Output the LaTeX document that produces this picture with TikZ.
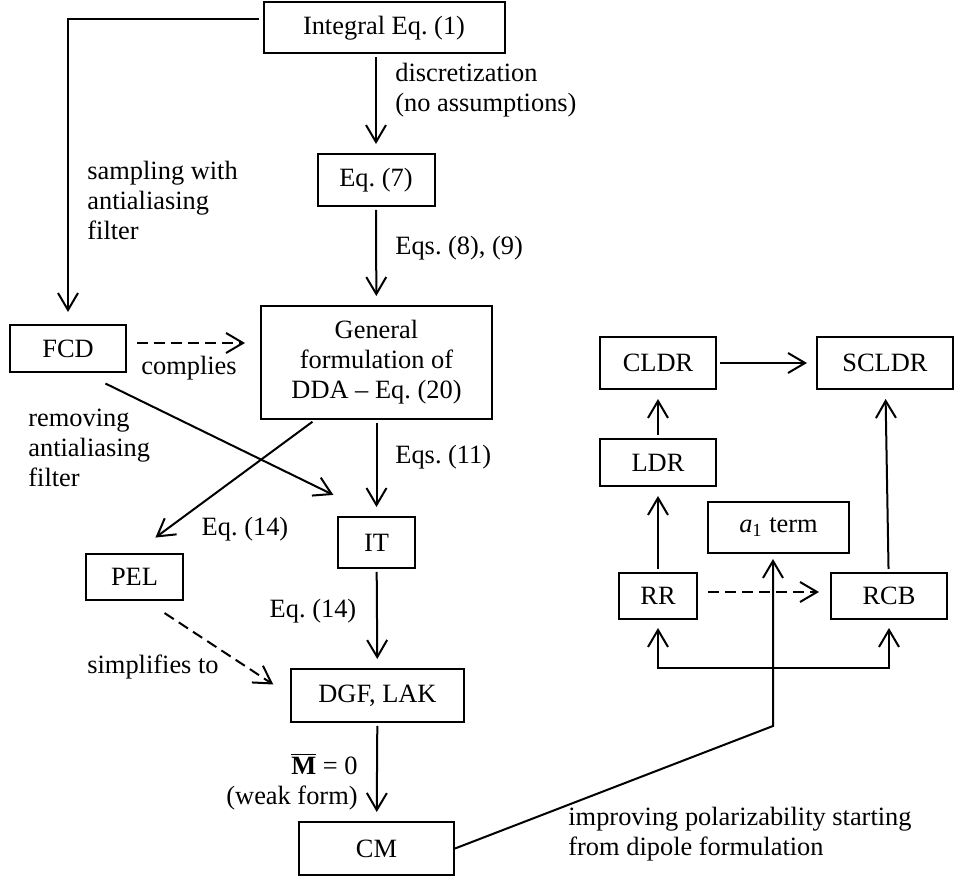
\documentclass[tikz,border=0pt]{standalone}
\usepackage{fontspec}
\setmainfont{Liberation Serif}
\usetikzlibrary{positioning}
\usetikzlibrary{arrows.meta}
\tikzset{box/.style={draw,line width=1pt,inner sep=2pt,align=center}}
\tikzset{note/.style={inner sep=0pt}}
\tikzset{flow/.style={draw,line width=1pt,->,shorten <=1.5pt,shorten >=4.5pt}}
\tikzset{dashflow/.style={flow,dash pattern=on 5.5pt off 3pt}}
\frenchspacing
\begin{document}
\begin{tikzpicture}[x=0.5pt,y=-0.5pt,font=\fontsize{13.2}{15}\selectfont,
    >={Straight Barb[length=8.5pt,width=10pt,line width=1pt]}]
        \useasboundingbox (0,0) rectangle (955,876);
        % main chain
        \node[box,minimum width=120.5pt,minimum height=25.5pt] (integral) at (384,28) {Integral Eq. (1)};
        \node[box,minimum width=58.5pt,minimum height=26pt] (eq7) at (376,180) {Eq. (7)};
            \path[flow] (eq7 |- integral.south) -- (eq7);
        \node[note,anchor=west,align=left] (disc) at (395,90) {discretization\\(no assumptions)};
        \node[box,minimum width=115.5pt,minimum height=56.5pt] (general) at (376.5,362.5) {General\\formulation of\\DDA -- Eq. (20)};
            \path[flow] (eq7) -- (general);
        \node[note,anchor=west] (eqs89) at (395,248) {Eqs. (8), (9)};
        \node[box,minimum width=38.5pt,minimum height=25.5pt] (it) at (376.5,542.5) {IT};
            \path[flow] (general) -- (it);
        \node[note,anchor=west] (eqs11) at (395,457) {Eqs. (11)};
        \node[box,minimum width=86.5pt,minimum height=26.5pt] (dgf) at (377.5,695.5) {DGF, LAK};
            \path[flow] (it) -- (dgf);
        \node[note] (eq14b) at (313,611) {Eq. (14)};
        \node[box,minimum width=77.5pt,minimum height=26.5pt] (cm) at (376.5,848.5) {CM};
            \path[flow] (dgf) -- (cm);
        \node[note,anchor=east,align=right] (weak) at (358,782) {$\overline{\textbf{M}}$ = 0\\(weak form)};
        % left branch
        \node[box,minimum width=58pt,minimum height=23.5pt] (fcd) at (68,348.5) {FCD};
        \coordinate[yshift=4.5pt] (intout) at (integral.west);
            \path[flow,shorten <=2pt,shorten >=6pt] (intout) -| (fcd.north);
        \node[note,anchor=west,align=left] (sampling) at (87,200) {sampling with\\antialiasing\\filter};
        \coordinate[yshift=2.75pt] (fcdout) at (fcd.east);
            \path[dashflow,shorten <=5pt,shorten >=7.5pt] (fcdout) -- (fcdout -| general.west);
        \node[note] (complies) at (189,368) {complies};
            \path[flow,shorten <=12pt,shorten >=24pt] (fcd.-57) -- (it.north);
        \node[note,anchor=west,align=left] (removing) at (28,448) {removing\\antialiasing\\filter};
        \node[box,minimum width=48.5pt,minimum height=23pt] (pel) at (134.5,577) {PEL};
            \path[flow,shorten >=13pt] (general.-137) -- (pel.north);
        \node[note] (eq14a) at (245,529) {Eq. (14)};
            \path[dashflow,shorten <=11pt,shorten >=10pt] (pel.-64) -- (dgf.west);
        \node[note] (simplifies) at (153,667) {simplifies to};
        % right group
        \node[box,minimum width=58pt,minimum height=26pt] (cldr) at (658,363) {CLDR};
        \node[box,minimum width=68pt,minimum height=26pt] (scldr) at (885,363) {SCLDR};
            \path[flow] (cldr) -- (scldr);
        \node[box,minimum width=58pt,minimum height=23.5pt] (ldr) at (658,462.5) {LDR};
            \path[flow] (ldr) -- (cldr);
        \node[box,minimum width=70.5pt,minimum height=25.5pt] (a1) at (778.5,527.5) {\textit{a}\textsubscript{1} term};
        \node[box,minimum width=39pt,minimum height=23pt] (rr) at (658,596) {RR};
            \path[flow] (rr) -- (ldr);
        \node[box,minimum width=58pt,minimum height=23pt] (rcb) at (889,596) {RCB};
            \path[flow] (rcb) -- (scldr);
        \coordinate[yshift=2pt] (rrout) at (rr.east);
            \path[dashflow,shorten <=5pt,shorten >=5.5pt] (rrout) -- (rrout -| rcb.west);
        \coordinate (base) at (658,668);
            \path[flow,<->,shorten <=4pt,shorten >=4pt] (rr.south) -- (base) -| (rcb.south);
        \coordinate (bend) at (773,726);
            \path[flow,shorten <=0pt,shorten >=2.5pt] (cm.east) -- (bend) -- (bend |- a1.south);
        \node[note,anchor=west,align=left] (improving) at (568,834) {improving polarizability starting\\from dipole formulation};
    \end{tikzpicture}
\end{document}
